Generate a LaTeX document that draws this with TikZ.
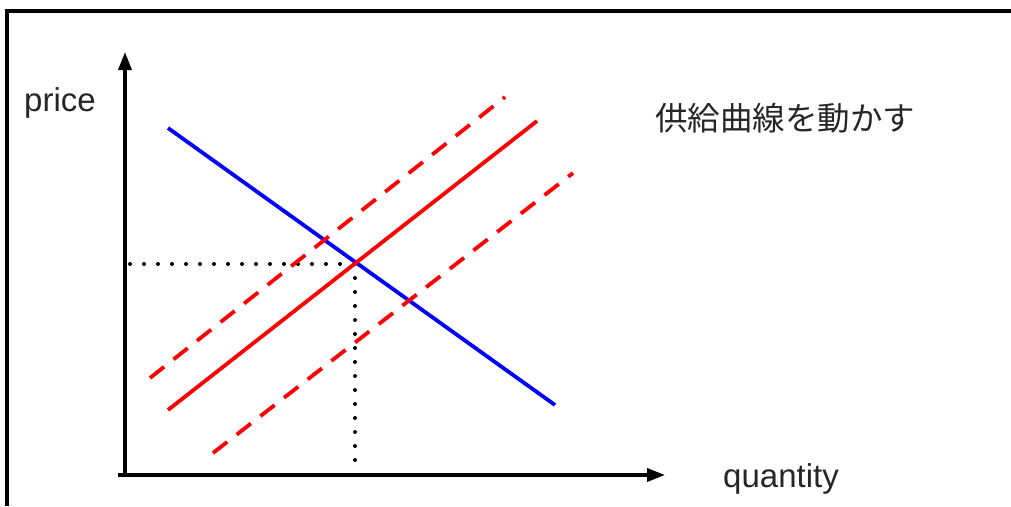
\documentclass[tikz,border=0pt]{standalone}
\usepackage{fontspec}
\setmainfont{Liberation Sans}
\newfontfamily\jpfont{Noto Sans CJK JP}
\usetikzlibrary{arrows.meta}
\begin{document}
\begin{tikzpicture}[x=1pt,y=-1pt,
  axis/.style={line width=3.5pt,-{Triangle[length=18pt,width=13pt]}},
  curve/.style={line width=3.8pt},
  dashedcurve/.style={line width=3.8pt,dash pattern=on 18pt off 12pt},
  guide/.style={line width=4pt,line cap=round,dash pattern=on 0pt off 14pt},
  lbl/.style={text=black!85,font=\fontsize{33}{38}\selectfont,inner sep=0pt}]
\useasboundingbox (0,0) rectangle (1011,506);
\draw[line width=3.5pt] (7,506) -- (7,11) -- (1011,11);
% axes
\coordinate (o) at (125,475);
\coordinate (ytop) at (125,52);
\coordinate (xend) at (665,475);
\draw[axis] (118,475) -- (xend);
\draw[axis] (125,477) -- (ytop);
% curves
\coordinate (d1) at (168,128);
\coordinate (d2) at (555,405);
\coordinate (s1) at (168,410);
\coordinate (s2) at (537,121);
\coordinate (u1) at (150,378);
\coordinate (u2) at (505,97);
\coordinate (l1) at (213,453);
\coordinate (l2) at (573,173);
\coordinate (eq) at (355,264);
\coordinate (eqy) at (130,264);
\coordinate (eqx) at (355,472);
\draw[guide] (eqy) -- (eq);
\draw[guide] (eq) -- (eqx);
\draw[curve,blue] (d1) -- (d2);
\draw[curve,red] (s1) -- (s2);
\draw[dashedcurve,red] (u1) -- (u2);
\draw[dashedcurve,red] (l1) -- (l2);
% labels
\node[lbl,anchor=west] (price) at (24,103) {price};
\node[lbl,anchor=west] (qty) at (723,479) {quantity};
\node[lbl,anchor=west,font=\jpfont\fontsize{32.5}{38}\selectfont] (title) at (655,118) {供給曲線を動かす};
\end{tikzpicture}
\end{document}
